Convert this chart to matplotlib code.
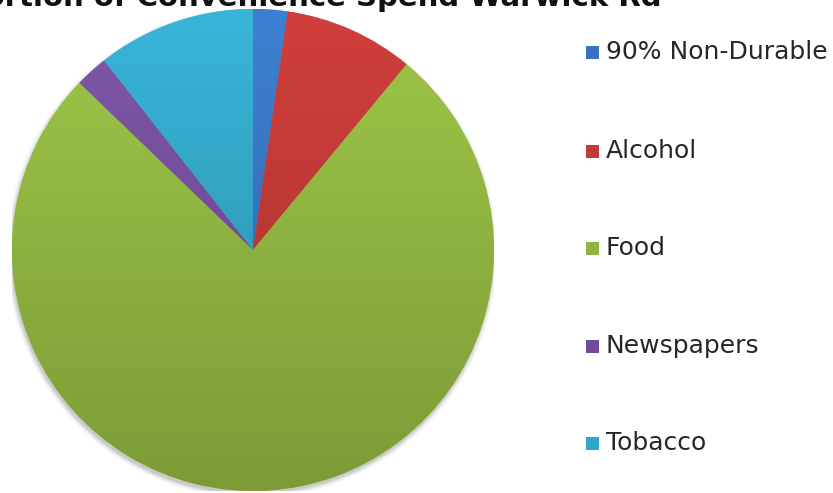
import numpy as np
import matplotlib
matplotlib.use("Agg")
import matplotlib.pyplot as plt
from matplotlib.patches import Rectangle, Circle
from matplotlib.colors import to_rgb

# Share of convenience spend by category (percent)
categories = ["90% Non-Durable", "Alcohol", "Food", "Newspapers", "Tobacco"]
shares = [2.3, 8.7, 76.2, 2.2, 10.6]
title = "Proportion of Convenience Spend Warwick Rd"

# Top / bottom shades of each slice's vertical gradient
top_colors = ["#3d80d2", "#d03f3c", "#9ec748", "#8058a8", "#38b5d9"]
bottom_colors = ["#2e62a2", "#a5302e", "#7c9b37", "#623f88", "#2a8aa4"]
legend_colors = ["#3a70c2", "#c23a3a", "#8fb443", "#6f4b9a", "#2fa7c9"]

W, H = 833, 493
fig = plt.figure(figsize=(W / 100, H / 100), dpi=100)
fig.patch.set_facecolor("white")

cx, cy, r = 253, 250, 241
ax = fig.add_axes([(cx - r) / W, (H - cy - r) / H, 2 * r / W, 2 * r / H])
ax.set_xlim(-1, 1)
ax.set_ylim(-1, 1)
ax.set_aspect("equal")
ax.axis("off")

# soft shadow under the pie
for i, a in enumerate(np.linspace(0.06, 0.015, 6)):
    ax.add_patch(Circle((-0.004, -0.012), 1.0 + 0.004 * i, color="black",
                        alpha=a, lw=0, zorder=0.5))

wedges, _ = ax.pie(shares, startangle=90, counterclock=False, radius=1.0,
                   colors=top_colors, wedgeprops=dict(linewidth=0))
ax.set_xlim(-1, 1)
ax.set_ylim(-1, 1)

t = np.linspace(0, 1, 256)[:, None]
for w, ct, cb in zip(wedges, top_colors, bottom_colors):
    c0 = np.array(to_rgb(ct))
    c1 = np.array(to_rgb(cb))
    grad = (c0[None, None, :] * (1 - t[..., None]) + c1[None, None, :] * t[..., None])
    grad = np.repeat(grad, 2, axis=1)
    im = ax.imshow(grad, extent=[-1, 1, -1, 1], origin="upper",
                   aspect="auto", zorder=2, interpolation="bilinear")
    im.set_clip_path(w)

# title, mostly running off the top edge
fig.text(662 / W, 1 - 6 / H, title, ha="right", va="baseline",
         fontsize=21, fontweight="bold", color="#111111", family="DejaVu Sans")

# legend
rows_y = [52, 151, 248, 346, 443]
for name, col, yy in zip(categories, legend_colors, rows_y):
    fig.patches.append(Rectangle((586 / W, 1 - (yy + 7) / H), 13 / W, 13 / H,
                                 transform=fig.transFigure, color=col, lw=0))
    fig.text(606 / W, 1 - yy / H, name, ha="left", va="center",
             fontsize=18, color="#262626", family="DejaVu Sans")

fig.savefig("out.png", dpi=100, facecolor="white")
